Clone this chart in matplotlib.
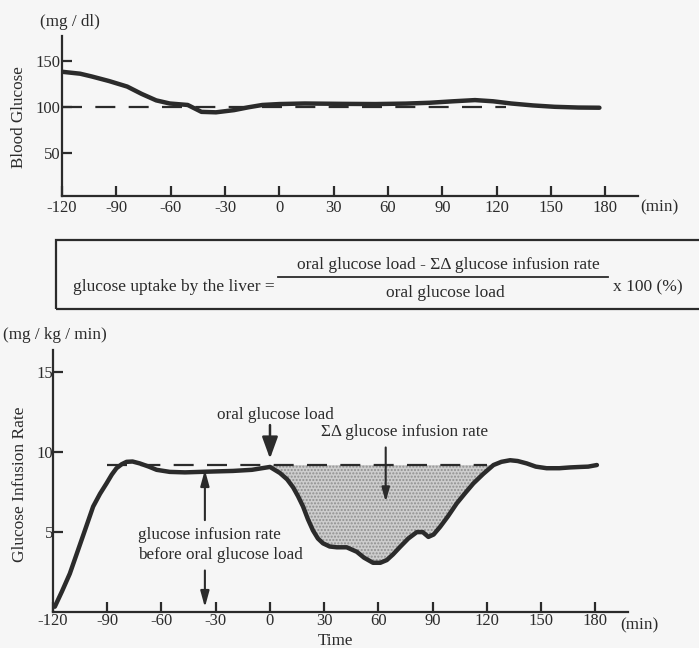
import matplotlib
matplotlib.use('Agg')
import matplotlib.pyplot as plt
from matplotlib.lines import Line2D
from matplotlib.patches import Rectangle
import numpy as np

plt.rcParams['font.family'] = ['Liberation Serif', 'DejaVu Serif']

# blood glucose (mg/dl) vs time (min)
bgTime = [-119.5, -110, -103.6, -94, -84, -76, -68, -60.5, -50.6, -43, -35, -25, -17, -9.4,
          0, 14, 35, 53, 70, 83, 96, 108, 118, 128, 140, 152, 165, 176.7]
bgValue = [138, 136, 133, 128, 122, 114, 107, 103.6, 102, 94.5, 94, 96.4, 99.5, 102,
           103, 103.6, 103.2, 103, 103.5, 104.4, 106, 107.3, 106, 103.6, 101.5, 100, 99.2, 99]
bgBaseline = 100
bgBaselineSpan = [-120, 125]

# glucose infusion rate (mg/kg/min) vs time (min)
girTime = [-119, -115, -110.7, -107, -103, -97.8, -94, -90.4, -87.5, -84.9, -82, -79.3, -76,
           -72, -67, -62.7, -55.4, -47, -38.7, -30, -20.5, -10, 0, 5.5, 9.5, 12.8, 15.5,
           18.3, 21, 23.8, 26.5, 29.3, 33, 37, 42.4, 48, 52, 57, 61, 64.6, 68, 72, 76.5,
           81.2, 84.5, 87.6, 90.5, 94.1, 98.5, 103.3, 108, 112.5, 118, 123.6, 128, 132.8,
           137, 142, 147, 153, 160, 166, 171.6, 176, 180.8]
girValue = [0.33, 1.3, 2.4, 3.6, 4.9, 6.6, 7.4, 8.05, 8.6, 9.0, 9.25, 9.4, 9.42,
            9.3, 9.1, 8.9, 8.77, 8.74, 8.77, 8.8, 8.83, 8.9, 9.08, 8.7, 8.3, 7.8, 7.25,
            6.6, 5.8, 5.1, 4.6, 4.3, 4.1, 4.05, 4.05, 3.77, 3.4, 3.08, 3.08, 3.25, 3.6, 4.08, 4.6,
            5.0, 5.0, 4.7, 4.85, 5.33, 6.0, 6.8, 7.45, 8.05, 8.65, 9.2, 9.4, 9.5,
            9.45, 9.3, 9.1, 9.0, 9.0, 9.05, 9.08, 9.1, 9.2]
girBaseline = 9.2
girBaselineSpan = [-90, 120]
loadStart = 0
loadEnd = 125

timeTicks = [-120, -90, -60, -30, 0, 30, 60, 90, 120, 150, 180]
bgTicks = [50, 100, 150]
girTicks = [5, 10, 15]

W, H = 699, 648
ink = '#2b2b2b'
fig = plt.figure(figsize=(W / 100, H / 100), dpi=100, facecolor='#f6f6f6')


def px(x, y):
    return x / W, 1 - y / H


def styleAxes(ax, labelPad):
    ax.set_facecolor('none')
    for side in ['top', 'right']:
        ax.spines[side].set_visible(False)
    for side in ['left', 'bottom']:
        ax.spines[side].set_linewidth(1.6)
        ax.spines[side].set_color(ink)
    ax.tick_params(direction='in', length=7, width=1.6, colors=ink, labelsize=12, pad=labelPad)
    ax.set_xticks(timeTicks)
    ax.set_xticklabels([str(t) for t in timeTicks])


# ---- top panel: blood glucose ----
ax1 = fig.add_axes([62 / W, 1 - 196 / H, 576 / W, 160 / H])
styleAxes(ax1, 3)
ax1.plot(bgBaselineSpan, [bgBaseline, bgBaseline], color=ink, lw=1.6, dashes=(9, 6))
ax1.plot(bgTime, bgValue, color=ink, lw=3.2, solid_capstyle='round', solid_joinstyle='round')
ax1.set_xlim(-120, 198)
ax1.set_ylim(3, 177)
ax1.set_yticks(bgTicks)
ax1.tick_params(axis='y', pad=1)

fig.text(*px(40, 22), '(mg / dl)', fontsize=12.3, color=ink, va='center', ha='left')
fig.text(*px(19, 117), 'Blood Glucose', fontsize=12.3, color=ink, rotation=90, va='center', ha='center')
fig.text(*px(640, 207), '(min)', fontsize=12.3, color=ink, va='center', ha='left')

# ---- formula box ----
fig.patches.append(Rectangle(px(56, 309), (720 - 56) / W, (309 - 240) / H, transform=fig.transFigure,
                             fill=False, edgecolor=ink, lw=1.6, clip_on=False))
fig.text(*px(73, 287), 'glucose uptake by the liver =', fontsize=12.5, color=ink, va='center', ha='left')
fig.text(*px(448, 265), 'oral glucose load - ΣΔ glucose infusion rate', fontsize=12.5, color=ink,
         va='center', ha='center')
fig.text(*px(445, 293), 'oral glucose load', fontsize=12.5, color=ink, va='center', ha='center')
fig.lines.append(Line2D([278 / W, 608 / W], [1 - 277 / H, 1 - 277 / H], transform=fig.transFigure,
                        color=ink, lw=1.3))
fig.text(*px(613, 287), 'x 100 (%)', fontsize=12.5, color=ink, va='center', ha='left')

# ---- bottom panel: glucose infusion rate ----
ax2 = fig.add_axes([53 / W, 1 - 612 / H, 575 / W, 262 / H])
styleAxes(ax2, 1)
t = np.array(girTime)
v = np.array(girValue)
inLoad = (t >= loadStart) & (t <= loadEnd)
ax2.fill_between(t, v, girBaseline, where=inLoad, interpolate=True,
                 facecolor='#cdcdcd', edgecolor='#8f8f8f', hatch='.....', lw=0)
ax2.plot(girBaselineSpan, [girBaseline, girBaseline], color=ink, lw=1.6, dashes=(9, 6))
ax2.plot(t, v, color=ink, lw=3.2, solid_capstyle='round', solid_joinstyle='round')
ax2.set_xlim(-120, 198)
ax2.set_ylim(0, 16.4)
ax2.set_yticks(girTicks)
ax2.tick_params(axis='y', pad=0)

# annotations
ax2.annotate('', xy=(0, 9.6), xytext=(0, 11.7),
             arrowprops=dict(arrowstyle='-|>,head_length=1.1,head_width=0.4', color=ink, lw=1.8,
                             shrinkA=0, shrinkB=0, mutation_scale=12))
ax2.text(3, 12.3, 'oral glucose load', fontsize=12.3, color=ink, ha='center', va='center')
ax2.annotate('', xy=(64, 6.9), xytext=(64, 10.3),
             arrowprops=dict(arrowstyle='-|>,head_length=0.7,head_width=0.2', color=ink, lw=1.5,
                             shrinkA=0, shrinkB=0, mutation_scale=12))
ax2.text(74.4, 11.25, 'ΣΔ glucose infusion rate', fontsize=12.3, color=ink, ha='center', va='center')
ax2.annotate('', xy=(-36, 8.9), xytext=(-36, 5.75),
             arrowprops=dict(arrowstyle='-|>,head_length=0.8,head_width=0.22', color=ink, lw=1.5,
                             shrinkA=0, shrinkB=0, mutation_scale=12))
ax2.annotate('', xy=(-36, 0.3), xytext=(-36, 2.6),
             arrowprops=dict(arrowstyle='-|>,head_length=0.8,head_width=0.22', color=ink, lw=1.5,
                             shrinkA=0, shrinkB=0, mutation_scale=12))
ax2.text(-73, 4.8, 'glucose infusion rate', fontsize=12.3, color=ink, ha='left', va='center')
ax2.text(-73, 3.56, 'before oral glucose load', fontsize=12.3, color=ink, ha='left', va='center')

fig.text(*px(3, 335), '(mg / kg / min)', fontsize=12.3, color=ink, va='center', ha='left')
fig.text(*px(20, 484), 'Glucose Infusion Rate', fontsize=12.5, color=ink, rotation=90, va='center', ha='center')
fig.text(*px(620, 625), '(min)', fontsize=12.3, color=ink, va='center', ha='left')
fig.text(*px(335, 641), 'Time', fontsize=12.3, color=ink, va='center', ha='center')

fig.savefig('out.png', dpi=100, facecolor=fig.get_facecolor())
